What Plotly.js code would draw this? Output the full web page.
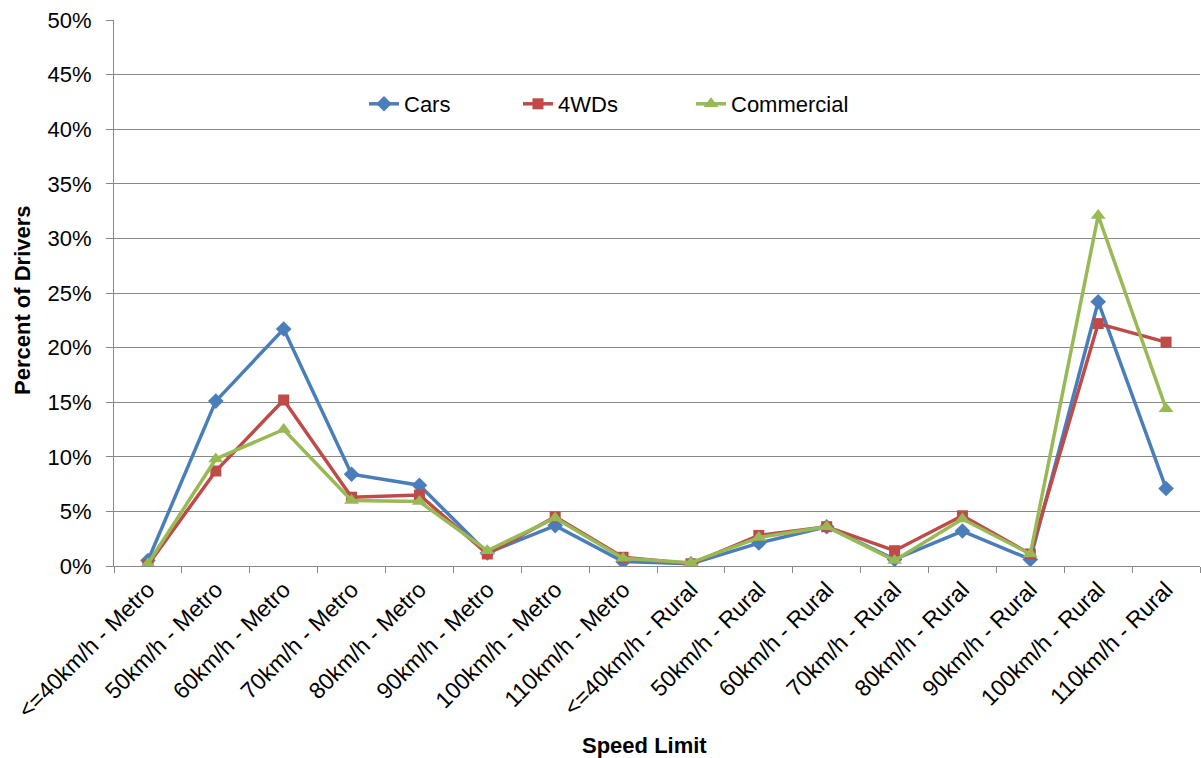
<!DOCTYPE html>
<html>
<head>
<meta charset="utf-8">
<script src="https://cdn.plot.ly/plotly-3.0.1.min.js"></script>
<style>
  html, body { margin: 0; padding: 0; background: #ffffff; }
  #chart { width: 1201px; height: 758px; }
</style>
</head>
<body>
<div id="chart"></div>
<script>
// Speed limit zones
const speedZones = [
  "<=40km/h - Metro", "50km/h - Metro", "60km/h - Metro", "70km/h - Metro",
  "80km/h - Metro", "90km/h - Metro", "100km/h - Metro", "110km/h - Metro",
  "<=40km/h - Rural", "50km/h - Rural", "60km/h - Rural", "70km/h - Rural",
  "80km/h - Rural", "90km/h - Rural", "100km/h - Rural", "110km/h - Rural"
];

// Percent of drivers per vehicle type
const carsPct       = [0.5, 15.1, 21.7, 8.4, 7.4, 1.2, 3.7, 0.4, 0.2, 2.1, 3.6, 0.6, 3.2, 0.6, 24.2, 7.1];
const fourWdPct     = [0.1, 8.7, 15.2, 6.3, 6.5, 1.1, 4.5, 0.8, 0.2, 2.8, 3.6, 1.4, 4.6, 1.1, 22.2, 20.5];
const commercialPct = [0.2, 9.8, 12.5, 6.0, 5.9, 1.4, 4.4, 0.7, 0.3, 2.6, 3.6, 0.5, 4.3, 1.1, 32.1, 14.4];

const seriesNames = ["Cars", "4WDs", "Commercial"];
const xTitle = "Speed Limit";
const yTitle = "Percent of Drivers";

const FONT = "Liberation Sans, Arial, sans-serif";
const GRID = "#888888";

// plot area in pixels
const W = 1201, H = 758;
const PLOT_L = 114, PLOT_R = 1200, PLOT_T = 20, PLOT_B = 566;
const LEGEND_Y = 104;

function series(name, y, color, symbol, size, legendId) {
  return {
    type: "scatter",
    mode: "lines+markers",
    name: name,
    x: speedZones,
    y: y,
    line: { color: color, width: 3.5 },
    marker: { color: color, symbol: symbol, size: size },
    legend: legendId,
    hovertemplate: "%{x}: %{y}%<extra>" + name + "</extra>"
  };
}

const traces = [
  series(seriesNames[0], carsPct, "#4A7EBB", "diamond", 12, "legend"),
  series(seriesNames[1], fourWdPct, "#BE4B48", "square", 11, "legend2"),
  series(seriesNames[2], commercialPct, "#98B954", "triangle-up", 13, "legend3")
];

// one legend per series so each entry sits at its own spot
function legendAt(px) {
  return {
    x: (px - PLOT_L) / (PLOT_R - PLOT_L),
    y: (PLOT_B - LEGEND_Y) / (PLOT_B - PLOT_T),
    xref: "paper", yref: "paper",
    xanchor: "left", yanchor: "middle",
    orientation: "h",
    bgcolor: "rgba(0,0,0,0)",
    font: { family: FONT, size: 22, color: "#000000" },
    itemwidth: 30
  };
}

const titleFont = { family: FONT, size: 22, color: "#000000" };

const layout = {
  width: W,
  height: H,
  paper_bgcolor: "#ffffff",
  plot_bgcolor: "#ffffff",
  margin: { l: PLOT_L, r: W - PLOT_R, t: PLOT_T, b: H - PLOT_B, autoexpand: false },
  showlegend: true,
  legend: legendAt(364),
  legend2: legendAt(518),
  legend3: legendAt(691),
  xaxis: {
    type: "category",
    range: [-0.5, 15.5],
    tickangle: -45,
    tickson: "boundaries",
    ticks: "outside",
    ticklen: 6,
    tickcolor: GRID,
    showgrid: false,
    showline: true,
    linecolor: GRID,
    linewidth: 1,
    zeroline: false,
    tickfont: { family: FONT, size: 23, color: "#000000" },
    automargin: false,
    fixedrange: true
  },
  yaxis: {
    range: [0, 50],
    dtick: 5,
    tick0: 0,
    ticksuffix: "%",
    ticks: "outside",
    ticklen: 7,
    tickcolor: GRID,
    ticklabelstandoff: 10,
    showgrid: true,
    gridcolor: GRID,
    gridwidth: 1,
    showline: true,
    linecolor: GRID,
    linewidth: 1,
    zeroline: false,
    tickfont: { family: FONT, size: 22, color: "#000000" },
    automargin: false,
    fixedrange: true
  },
  // axis titles placed in paper space
  annotations: [
    {
      text: "<b>" + xTitle + "</b>",
      xref: "paper", yref: "paper",
      x: (644 - PLOT_L) / (PLOT_R - PLOT_L),
      y: (PLOT_B - 745) / (PLOT_B - PLOT_T),
      xanchor: "center", yanchor: "middle",
      showarrow: false,
      font: titleFont
    },
    {
      text: "<b>" + yTitle + "</b>",
      xref: "paper", yref: "paper",
      x: (22 - PLOT_L) / (PLOT_R - PLOT_L),
      y: (PLOT_B - 300) / (PLOT_B - PLOT_T),
      xanchor: "center", yanchor: "middle",
      textangle: -90,
      showarrow: false,
      font: titleFont
    }
  ]
};

Plotly.newPlot("chart", traces, layout, { displayModeBar: false, staticPlot: true });
</script>
</body>
</html>
